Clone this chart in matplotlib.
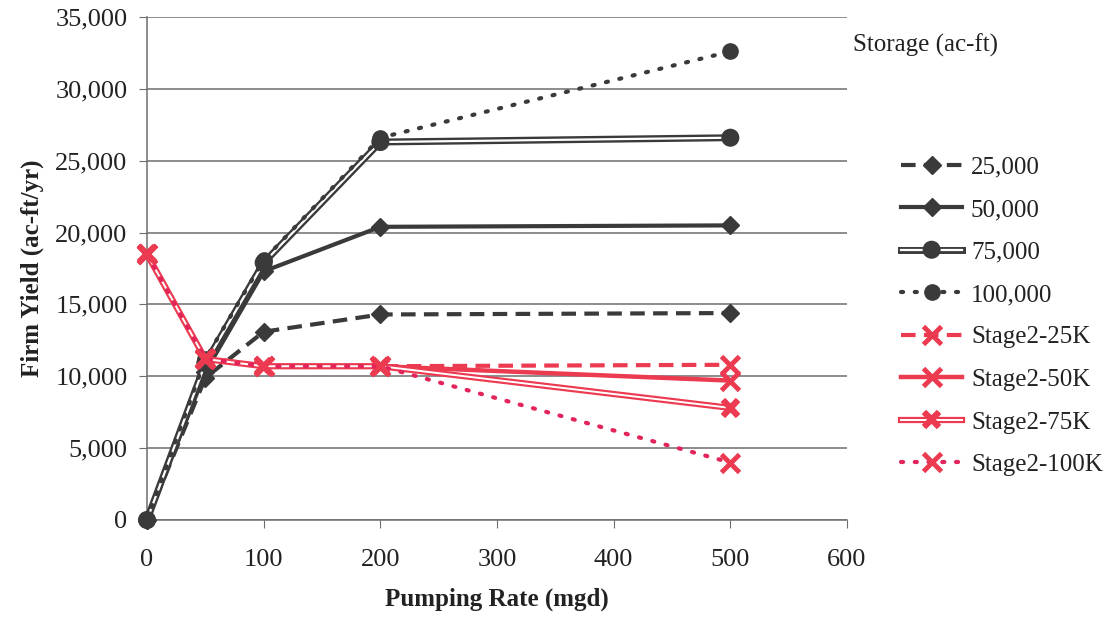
import matplotlib
matplotlib.use("Agg")
import matplotlib.pyplot as plt
import matplotlib.patheffects as pe
from matplotlib.ticker import FuncFormatter

# ---- data ----
pumping = [0, 50, 100, 200, 500]
s25 = [0, 9900, 13100, 14300, 14400]
s50 = [0, 10300, 17300, 20400, 20500]
s75 = [0, 10900, 17900, 26300, 26600]
s100 = [0, 11200, 18100, 26600, 32600]
st25 = [18500, 11300, 10700, 10700, 10800]
st50 = [18500, 11200, 10700, 10700, 9700]
st75 = [18500, 11200, 10700, 10700, 7800]
st100 = [18500, 11200, 10700, 10700, 4000]
labels = ["25,000", "50,000", "75,000", "100,000",
          "Stage2-25K", "Stage2-50K", "Stage2-75K", "Stage2-100K"]
xticks = [0, 100, 200, 300, 400, 500, 600]
yticks = [0, 5000, 10000, 15000, 20000, 25000, 30000, 35000]

plt.rcParams['font.family'] = ['Liberation Serif', 'DejaVu Serif']

DARK = "#3a3a3a"
RED = "#ec3a50"
RED2 = "#e2245a"
TXT = "#222222"

fig = plt.figure(figsize=(11.2, 6.27), dpi=100)
ax = fig.add_axes([147/1120, 1-520/627, 700/1120, 503/627])

dbl_dark = [pe.Stroke(linewidth=5.0, foreground=DARK), pe.Normal()]
dbl_red = [pe.Stroke(linewidth=4.5, foreground=RED), pe.Normal()]
DOT = (0, (0.5, 2.8))

handles = []
h, = ax.plot(pumping, s25, color=DARK, lw=3, ls=(0, (3.5, 2)), marker='D', ms=9,
             mfc=DARK, mec=DARK, label=labels[0], zorder=3, clip_on=False)
handles.append(h)
h, = ax.plot(pumping, s50, color=DARK, lw=3, ls='-', marker='D', ms=9,
             mfc=DARK, mec=DARK, label=labels[1], zorder=3, clip_on=False)
handles.append(h)
h, = ax.plot(pumping, s75, color='white', lw=1.6, ls='-', marker='o', ms=8,
             mfc=DARK, mec=DARK, label=labels[2], zorder=3, path_effects=dbl_dark,
             clip_on=False)
handles.append(h)
h, = ax.plot(pumping, s100, color=DARK, lw=3, ls=DOT,
             dash_capstyle='round', marker='o', ms=11,
             mfc=DARK, mec=DARK, label=labels[3], zorder=3, clip_on=False)
handles.append(h)

h, = ax.plot(pumping, st25, color=RED, lw=3, ls=(0, (3.5, 2)), marker='x', ms=13,
             mew=3.5, label=labels[4], zorder=4, clip_on=False)
handles.append(h)
h, = ax.plot(pumping, st50, color=RED, lw=3.2, ls='-', marker='x', ms=13,
             mew=3.5, label=labels[5], zorder=4, clip_on=False)
handles.append(h)
h, = ax.plot(pumping, st75, color='white', lw=1.4, ls='-', marker='x', ms=11,
             mew=2.6, mec=RED, label=labels[6], zorder=4, path_effects=dbl_red,
             clip_on=False)
handles.append(h)
h, = ax.plot(pumping, st100, color=RED2, lw=3, ls=DOT,
             dash_capstyle='round', marker='x', ms=13, mew=3.5, mec=RED,
             label=labels[7], zorder=4, clip_on=False)
handles.append(h)

ax.set_xlim(0, 600)
ax.set_ylim(0, 35000)
ax.set_xticks(xticks)
ax.set_yticks(yticks)
ax.yaxis.set_major_formatter(FuncFormatter(lambda v, p: f"{int(v):,}"))
ax.grid(axis='y', color='#6e6e6e', lw=1.1)
ax.set_axisbelow(True)
for s in ['top', 'right']:
    ax.spines[s].set_visible(False)
for s in ['left', 'bottom']:
    ax.spines[s].set_color('#6e6e6e')
    ax.spines[s].set_linewidth(1.1)
ax.tick_params(axis='x', length=6, color='#6e6e6e', labelsize=19, pad=15)
ax.tick_params(axis='y', length=6, color='#6e6e6e', labelsize=19, pad=8)
for lab in ax.get_xticklabels() + ax.get_yticklabels():
    lab.set_color(TXT)

ax.set_xlabel("Pumping Rate (mgd)", fontsize=18, fontweight='bold', labelpad=12,
              color=TXT)
ax.set_ylabel("Firm Yield (ac-ft/yr)", fontsize=18, fontweight='bold', labelpad=8,
              color=TXT)

fig.text(853/1120, 1-45/627, "Storage (ac-ft)", fontsize=18, color=TXT,
         ha='left', va='center')

leg = fig.legend(handles=handles, loc='upper left',
                 bbox_to_anchor=(901/1120, 1-156/627), frameon=False,
                 fontsize=18, handlelength=2.45, handletextpad=0.35,
                 labelspacing=0.8, borderaxespad=0, borderpad=0)
for t in leg.get_texts():
    t.set_color(TXT)

fig.savefig("out.png", dpi=100)
